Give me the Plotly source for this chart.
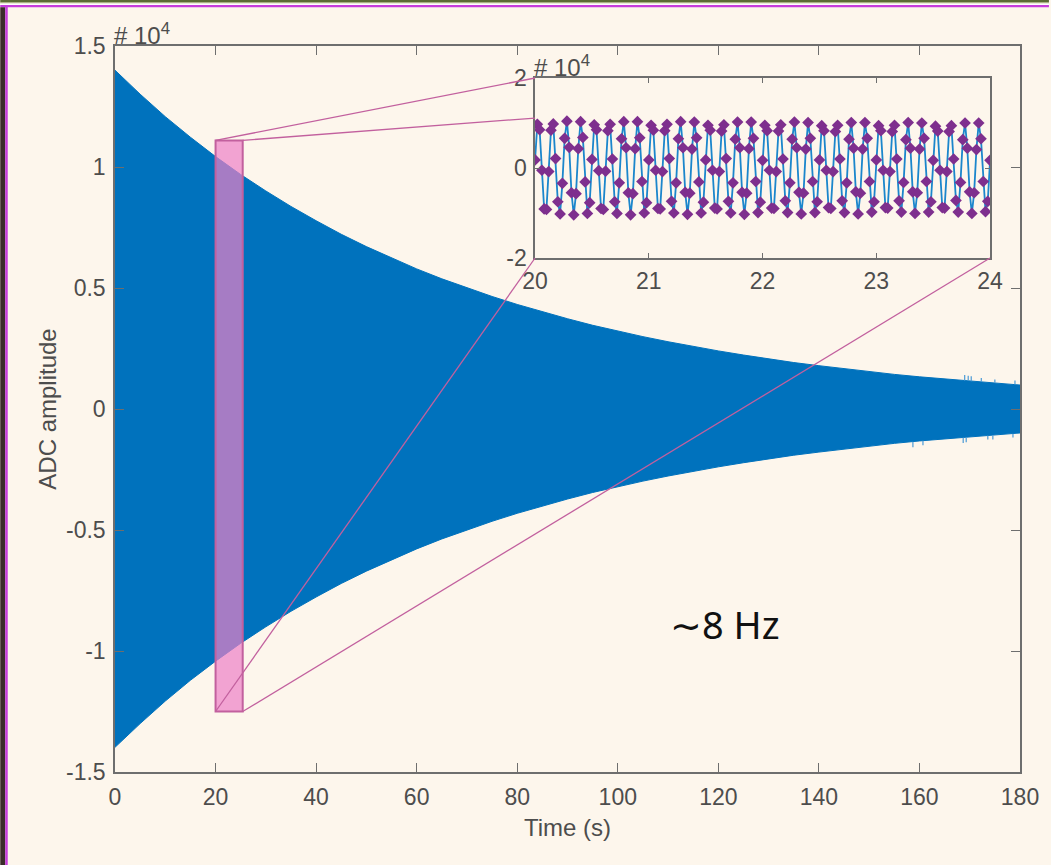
import numpy as np
import plotly.graph_objects as go

# ---------------------------------------------------------------
# Data (amplitudes in units of 1e4 ADC counts)
# ---------------------------------------------------------------
# Envelope of the full ringdown record, 0-180 s
t_env = [0, 5, 10, 15, 20, 25, 30, 35, 40, 45, 50, 55, 60, 65, 70, 75, 80, 85,
         90, 95, 100, 105, 110, 115, 120, 125, 130, 135, 140, 145, 150, 155,
         160, 165, 170, 175, 180]
env_upper = [1.400, 1.301, 1.208, 1.123, 1.043, 0.969, 0.901, 0.837, 0.778,
             0.722, 0.671, 0.624, 0.579, 0.538, 0.500, 0.465, 0.432, 0.401,
             0.373, 0.346, 0.322, 0.299, 0.278, 0.258, 0.240, 0.223, 0.207,
             0.192, 0.179, 0.166, 0.154, 0.143, 0.133, 0.124, 0.115, 0.107,
             0.099]
env_lower = [-1.398, -1.300, -1.207, -1.121, -1.042, -0.968, -0.900, -0.836,
             -0.777, -0.721, -0.670, -0.623, -0.578, -0.537, -0.499, -0.464,
             -0.431, -0.400, -0.372, -0.345, -0.321, -0.298, -0.277, -0.257,
             -0.239, -0.222, -0.206, -0.191, -0.178, -0.165, -0.153, -0.142,
             -0.132, -0.123, -0.114, -0.106, -0.099]

# Isolated glitches on the envelope near the end of the record
spike_t = [169.0, 169.7, 170.3, 172.3, 175.0, 179.0,
           158.7, 160.7, 168.7, 169.3, 173.6, 174.6, 178.6]
spike_base = [0.117, 0.116, 0.115, 0.112, 0.108, 0.101,
              -0.135, -0.131, -0.118, -0.117, -0.110, -0.109, -0.102]
spike_tip = [0.140, 0.137, 0.135, 0.128, 0.122, 0.118,
             -0.158, -0.150, -0.140, -0.137, -0.126, -0.126, -0.118]

# Zoomed section of the record, 20-24 s, sampled at 50 Hz
fs = 50
zoom_start = 20.0
zoom_vals = [
    0.18, 0.97, 0.85, -0.05, -0.91, -0.92, -0.08, 0.84, 0.98, 0.21, -0.75, -1.02, -0.34,
    0.66, 1.04, 0.46, -0.55, -1.04, -0.57, 0.43, 1.03, 0.68, -0.31, -1.01, -0.77,
    0.19, 0.96, 0.85, -0.06, -0.90, -0.92, -0.07, 0.83, 0.97, 0.20, -0.75, -1.01, -0.33,
    0.65, 1.03, 0.45, -0.55, -1.04, -0.57, 0.43, 1.03, 0.67, -0.30, -1.00, -0.77,
    0.18, 0.95, 0.84, -0.05, -0.90, -0.91, -0.08, 0.83, 0.97, 0.21, -0.74, -1.00, -0.33,
    0.65, 1.03, 0.45, -0.54, -1.03, -0.56, 0.42, 1.02, 0.67, -0.31, -1.00, -0.76,
    0.18, 0.95, 0.84, -0.05, -0.89, -0.91, -0.08, 0.82, 0.96, 0.21, -0.74, -1.00, -0.33,
    0.64, 1.02, 0.45, -0.54, -1.03, -0.56, 0.43, 1.02, 0.66, -0.30, -0.99, -0.76,
    0.17, 0.95, 0.83, -0.05, -0.89, -0.90, -0.08, 0.82, 0.96, 0.20, -0.73, -0.99, -0.33,
    0.64, 1.02, 0.45, -0.54, -1.02, -0.56, 0.42, 1.01, 0.66, -0.30, -0.99, -0.75,
    0.18, 0.94, 0.83, -0.05, -0.88, -0.90, -0.08, 0.81, 0.95, 0.20, -0.73, -0.99, -0.33,
    0.64, 1.01, 0.44, -0.53, -1.02, -0.56, 0.42, 1.01, 0.66, -0.30, -0.98, -0.75,
    0.18, 0.94, 0.83, -0.05, -0.88, -0.89, -0.08, 0.81, 0.95, 0.20, -0.73, -0.98, -0.32,
    0.63, 1.01, 0.44, -0.53, -1.01, -0.55, 0.42, 1.00, 0.66, -0.30, -0.98, -0.75,
    0.17, 0.93, 0.82, -0.05, -0.88, -0.89, -0.08, 0.81, 0.94, 0.20, -0.72, -0.98, -0.32,
    0.63, 1.00, 0.44, -0.53, -1.01, -0.55, 0.41, 1.00, 0.65, -0.30, -0.97, -0.74,
    0.17,
]
zoom_t = zoom_start + np.arange(len(zoom_vals)) / fs

# Highlighted window on the main axes
win_x = [20.0, 25.4]
win_y = [-1.25, 1.11]

# Axis ticks
main_xticks = [0, 20, 40, 60, 80, 100, 120, 140, 160, 180]
main_yticks = [-1.5, -1, -0.5, 0, 0.5, 1, 1.5]
main_ylabels = ["-1.5", "-1", "-0.5", "0", "0.5", "1", "1.5"]
inset_xticks = [20, 21, 22, 23, 24]
inset_yticks = [-2, 0, 2]
inset_ylabels = ["-2", "0", "2"]

# ---------------------------------------------------------------
# Layout geometry (pixels of the 1051x865 page)
# ---------------------------------------------------------------
W, H = 1051, 865
L, R, T, B = 115, 1022, 46, 772          # main plot area
IL, IR, IT, IB = 536, 992, 78, 258       # inset plot area


def px(xp):
    return (xp - L) / (R - L)


def py(yp):
    return (B - yp) / (B - T)


MAIN_XR = [0, 180]
MAIN_YR = [-1.5, 1.5]
IN_XR = [20, 24]
IN_YR = [-2, 2]
in_dx = [px(IL), px(IR)]
in_dy = [py(IB), py(IT)]


def main_to_paper(x, y):
    return ((x - MAIN_XR[0]) / (MAIN_XR[1] - MAIN_XR[0]),
            (y - MAIN_YR[0]) / (MAIN_YR[1] - MAIN_YR[0]))


def inset_to_paper(x, y):
    fx = (x - IN_XR[0]) / (IN_XR[1] - IN_XR[0])
    fy = (y - IN_YR[0]) / (IN_YR[1] - IN_YR[0])
    return (in_dx[0] + fx * (in_dx[1] - in_dx[0]),
            in_dy[0] + fy * (in_dy[1] - in_dy[0]))


BG = "#FDF6EC"
BLUE = "#0072BD"
PURPLE = "#7E2F8E"
AXIS = "#6E6E6E"
TXT = "#4D4D4D"
PINK_LINE = "#C2609E"
FONT = "Liberation Sans, Arial, sans-serif"

fig = go.Figure()

# Ringdown envelope as a filled band
fig.add_trace(go.Scatter(x=t_env, y=env_upper, mode="lines",
                         line=dict(color=BLUE, width=1),
                         hoverinfo="skip", showlegend=False))
fig.add_trace(go.Scatter(x=t_env, y=env_lower, mode="lines",
                         line=dict(color=BLUE, width=1), fill="tonexty",
                         fillcolor=BLUE, hoverinfo="skip", showlegend=False))

# Glitches
sx, sy = [], []
for t0, b0, s0 in zip(spike_t, spike_base, spike_tip):
    sx += [t0, t0, None]
    sy += [b0, s0, None]
fig.add_trace(go.Scatter(x=sx, y=sy, mode="lines",
                         line=dict(color="#4A9AD6", width=1.2),
                         hoverinfo="skip", showlegend=False))

# Inset: zoomed samples
fig.add_trace(go.Scatter(x=zoom_t, y=zoom_vals, mode="lines+markers",
                         line=dict(color="#1B86CC", width=1.8),
                         marker=dict(symbol="diamond", size=9, color=PURPLE,
                                     line=dict(width=0)),
                         xaxis="x2", yaxis="y2",
                         hoverinfo="skip", showlegend=False))

shapes = []
# highlighted window
shapes.append(dict(type="rect", xref="x", yref="y",
                   x0=win_x[0], x1=win_x[1], y0=win_y[0], y1=win_y[1],
                   fillcolor="rgba(236,128,200,0.70)",
                   line=dict(color=PINK_LINE, width=2), layer="above"))

# connector lines from the window to the inset
connectors = [
    ((win_x[0], win_y[1]), (IN_XR[0], IN_YR[1])),
    ((win_x[1], win_y[1]), (IN_XR[0], win_y[1])),
    ((win_x[0], win_y[0]), (IN_XR[0], IN_YR[0])),
    ((win_x[1], win_y[0]), (IN_XR[1], IN_YR[0])),
]
for (ax, ay), (bx, by) in connectors:
    p0 = main_to_paper(ax, ay)
    p1 = inset_to_paper(bx, by)
    shapes.append(dict(type="line", xref="paper", yref="paper",
                       x0=p0[0], y0=p0[1], x1=p1[0], y1=p1[1],
                       line=dict(color=PINK_LINE, width=1.3), layer="above"))

# slide frame: olive rule on top, purple border, photo strip on the left
shapes += [
    dict(type="rect", xref="paper", yref="paper", x0=px(0), x1=px(W),
         y0=py(2.6), y1=py(0), fillcolor="#5B6B35", line=dict(width=0)),
    dict(type="rect", xref="paper", yref="paper", x0=px(0), x1=px(W),
         y0=py(3.4), y1=py(2.6), fillcolor="#A9B37C", line=dict(width=0)),
    dict(type="rect", xref="paper", yref="paper", x0=px(0), x1=px(W),
         y0=py(5.0), y1=py(3.4), fillcolor="#FFFFFF", line=dict(width=0)),
    dict(type="rect", xref="paper", yref="paper", x0=px(0), x1=px(W),
         y0=py(7.3), y1=py(5.0), fillcolor="#C63CDC", line=dict(width=0)),
    dict(type="rect", xref="paper", yref="paper", x0=px(0), x1=px(5),
         y0=py(H), y1=py(7.3), fillcolor="#3A2C2A", line=dict(width=0)),
    dict(type="rect", xref="paper", yref="paper", x0=px(5), x1=px(7.5),
         y0=py(H), y1=py(5.0), fillcolor="#C63CDC", line=dict(width=0)),
]

annotations = [
    dict(text="# 10<sup>4</sup>", xref="paper", yref="paper", x=0, y=1,
         xanchor="left", yanchor="bottom", showarrow=False, xshift=-3, yshift=-5,
         font=dict(family=FONT, size=24, color=TXT)),
    dict(text="# 10<sup>4</sup>", xref="paper", yref="paper",
         x=in_dx[0], y=in_dy[1], xanchor="left", yanchor="bottom",
         showarrow=False, xshift=-3, yshift=-5,
         font=dict(family=FONT, size=24, color=TXT)),
    dict(text="\u223c8 Hz", xref="paper", yref="paper",
         x=px(726), y=py(624), xanchor="center", yanchor="middle",
         showarrow=False, font=dict(family="Noto Sans, sans-serif", size=38,
                                    color="#111111")),
]

axis_common = dict(showline=True, linecolor=AXIS, linewidth=1.5, mirror="ticks",
                   ticks="inside", tickcolor=AXIS, tickwidth=1.3,
                   showgrid=False, zeroline=False,
                   tickfont=dict(family=FONT, size=23, color=TXT))

fig.update_layout(
    width=W, height=H,
    margin=dict(l=L, r=W - R, t=T, b=H - B, pad=0),
    paper_bgcolor=BG, plot_bgcolor="rgba(0,0,0,0)",
    showlegend=False,
    xaxis=dict(range=MAIN_XR, tickvals=main_xticks, ticklen=9,
               ticklabelstandoff=4,
               title=dict(text="Time (s)", standoff=10,
                          font=dict(family=FONT, size=24, color=TXT)),
               **axis_common),
    yaxis=dict(range=MAIN_YR, tickvals=main_yticks, ticktext=main_ylabels,
               ticklen=9, ticklabelstandoff=3,
               title=dict(text="ADC amplitude", standoff=3,
                          font=dict(family=FONT, size=24, color=TXT)),
               **axis_common),
    xaxis2=dict(range=IN_XR, tickvals=inset_xticks, ticklen=5,
                ticklabelstandoff=2,
                domain=in_dx, anchor="y2", **axis_common),
    yaxis2=dict(range=IN_YR, tickvals=inset_yticks, ticktext=inset_ylabels,
                ticklen=5, ticklabelstandoff=2,
                domain=in_dy, anchor="x2", **axis_common),
    shapes=shapes,
    annotations=annotations,
)

fig.write_html("out.html")
